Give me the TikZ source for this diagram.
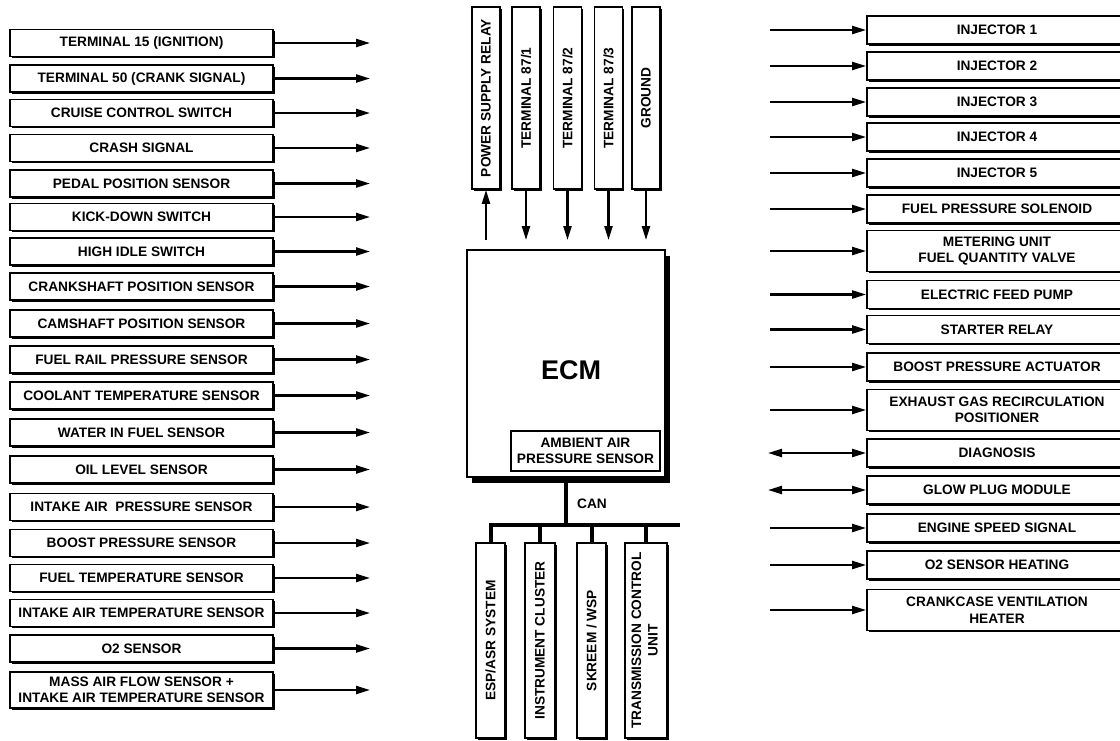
\documentclass[tikz,border=0pt]{standalone}
\usepackage{fontspec}
\setmainfont{Liberation Sans}
\usepackage{graphicx}
\usetikzlibrary{arrows.meta,shadows}
\tikzset{
  lbox/.style={draw, line width=1.8pt, fill=white, inner sep=0pt, align=center,
    font=\bfseries\fontsize{13.7}{16.5}\selectfont,
    general shadow={fill=black, shadow xshift=1.8pt, shadow yshift=-1.8pt}},
  sbox/.style={lbox, minimum width=263pt, minimum height=27pt},
  dbox/.style={lbox, minimum width=263pt, minimum height=36pt},
  rsbox/.style={lbox, minimum width=260pt, minimum height=28pt},
  rdbox/.style={lbox, minimum width=260pt, minimum height=41pt},
  vbox/.style={lbox, minimum width=28pt, minimum height=182pt},
  bbox/.style={lbox, minimum height=195pt},
  sig/.style={line width=2.2pt, -{Triangle[length=14pt,width=8pt]}},
  bisig/.style={line width=2.2pt, {Triangle[length=14pt,width=8pt]}-{Triangle[length=14pt,width=8pt]}},
  bus/.style={line width=4pt},
  lbl/.style={font=\bfseries\fontsize{13.7}{16.5}\selectfont, inner sep=0pt},
}
\begin{document}
\begin{tikzpicture}[x=1pt,y=-1pt]
\clip (0,0) rectangle (1120,740);
\fill[white] (0,0) rectangle (1120,740);

% ---------- left column ----------
\node[sbox] (L1)  at (141.5,43)    {TERMINAL 15 (IGNITION)};
\node[sbox] (L2)  at (141.5,78.5)  {TERMINAL 50 (CRANK SIGNAL)};
\node[sbox] (L3)  at (141.5,113)   {CRUISE CONTROL SWITCH};
\node[sbox] (L4)  at (141.5,148)   {CRASH SIGNAL};
\node[sbox] (L5)  at (141.5,183.5) {PEDAL POSITION SENSOR};
\node[sbox] (L6)  at (141.5,217)   {KICK-DOWN SWITCH};
\node[sbox] (L7)  at (141.5,251.5) {HIGH IDLE SWITCH};
\node[sbox] (L8)  at (141.5,286.5) {CRANKSHAFT POSITION SENSOR};
\node[sbox] (L9)  at (141.5,323.5) {CAMSHAFT POSITION SENSOR};
\node[sbox] (L10) at (141.5,359.5) {FUEL RAIL PRESSURE SENSOR};
\node[sbox] (L11) at (141.5,395.5) {COOLANT TEMPERATURE SENSOR};
\node[sbox] (L12) at (141.5,432.5) {WATER IN FUEL SENSOR};
\node[sbox] (L13) at (141.5,469.5) {OIL LEVEL SENSOR};
\node[sbox] (L14) at (141.5,507)   {INTAKE AIR\ \ PRESSURE SENSOR};
\node[sbox] (L15) at (141.5,543)   {BOOST PRESSURE SENSOR};
\node[sbox] (L16) at (141.5,578)   {FUEL TEMPERATURE SENSOR};
\node[sbox] (L17) at (141.5,613)   {INTAKE AIR TEMPERATURE SENSOR};
\node[sbox] (L18) at (141.5,648.5) {O2 SENSOR};
\node[dbox] (L19) at (141.5,690)   {MASS AIR FLOW SENSOR +\\INTAKE AIR TEMPERATURE SENSOR};

\foreach \i/\y in {1/43,2/78.5,3/113,4/148,5/183.5,6/217,7/251.5,8/286.5,9/323.5,10/359.5,
                   11/395.5,12/432.5,13/469.5,14/507,15/543,16/578,17/613,18/648.5,19/690}{
  \coordinate (LA\i) at (370,\y);
  \draw[sig] (L\i.east) -- (LA\i);
}

% ---------- top column ----------
\node[vbox] (P1) at (486,98)   {\rotatebox{90}{POWER SUPPLY RELAY}};
\node[vbox] (T1) at (526,98)   {\rotatebox{90}{TERMINAL 87/1}};
\node[vbox] (T2) at (567.5,98) {\rotatebox{90}{TERMINAL 87/2}};
\node[vbox] (T3) at (608.5,98) {\rotatebox{90}{TERMINAL 87/3}};
\node[vbox] (T4) at (646,98)   {\rotatebox{90}{GROUND}};

\coordinate (PA) at (486,240);
\draw[sig] (PA) -- (P1.south);
\foreach \n/\x in {T1/526,T2/567.5,T3/608.5,T4/646}{
  \coordinate (\n a) at (\x,240);
  \draw[sig] (\n.south) -- (\n a);
}

% ---------- ECM ----------
\node[draw, line width=1.8pt, fill=white, inner sep=0pt, minimum width=198pt, minimum height=227pt,
      general shadow={fill=black, shadow xshift=5pt, shadow yshift=-5.5pt}] (ECM) at (566,363.5) {};
\node[font=\bfseries\fontsize{27}{30}\selectfont, inner sep=0pt] (ECMt) at (571,370) {ECM};
\node[draw, line width=1.1pt, fill=white, inner sep=0pt, minimum width=149pt, minimum height=40pt,
      align=center, font=\bfseries\fontsize{13.7}{15.5}\selectfont] (AMB) at (585.5,451)
      {AMBIENT AIR\\PRESSURE SENSOR};

% ---------- CAN bus ----------
\node[lbl, anchor=west] (CAN) at (577,504) {CAN};
\node[bbox, minimum width=29pt] (B1) at (490.5,640.5) {\rotatebox{90}{ESP/ASR SYSTEM}};
\node[bbox, minimum width=30pt] (B2) at (540,640.5)   {\rotatebox{90}{INSTRUMENT CLUSTER}};
\node[bbox, minimum width=29pt] (B3) at (591.5,640.5) {\rotatebox{90}{SKREEM / WSP}};
\node[bbox, minimum width=42pt] (B4) at (646,640.5)
      {\rotatebox{90}{\begin{tabular}{@{}c@{}}TRANSMISSION CONTROL\\UNIT\end{tabular}}};

\coordinate (busR) at (680,525);
\draw[bus] (B1.north) |- (busR);
\draw[bus] (ECM.south) -- (ECM.south |- busR);
\draw[bus] (B2.north) -- (B2.north |- busR);
\draw[bus] (B3.north) -- (B3.north |- busR);
\draw[bus] (B4.north) -- (B4.north |- busR);

% ---------- right column ----------
\node[rsbox] (R1)  at (997,30)    {INJECTOR 1};
\node[rsbox] (R2)  at (997,66)    {INJECTOR 2};
\node[rsbox] (R3)  at (997,102)   {INJECTOR 3};
\node[rsbox] (R4)  at (997,137)   {INJECTOR 4};
\node[rsbox] (R5)  at (997,173)   {INJECTOR 5};
\node[rsbox] (R6)  at (997,209)   {FUEL PRESSURE SOLENOID};
\node[rdbox] (R7)  at (997,251)   {METERING UNIT\\FUEL QUANTITY VALVE};
\node[rsbox] (R8)  at (997,294.5) {ELECTRIC FEED PUMP};
\node[rsbox] (R9)  at (997,329.5) {STARTER RELAY};
\node[rsbox] (R10) at (997,367)   {BOOST PRESSURE ACTUATOR};
\node[rdbox] (R11) at (997,410)   {EXHAUST GAS RECIRCULATION\\POSITIONER};
\node[rsbox] (R12) at (997,453)   {DIAGNOSIS};
\node[rsbox] (R13) at (997,490)   {GLOW PLUG MODULE};
\node[rsbox] (R14) at (997,528)   {ENGINE SPEED SIGNAL};
\node[rsbox] (R15) at (997,565)   {O2 SENSOR HEATING};
\node[rdbox] (R16) at (997,610)   {CRANKCASE VENTILATION\\HEATER};

\foreach \i/\y in {1/30,2/66,3/102,4/137,5/173,6/209,7/251,8/294.5,9/329.5,10/367,11/410,
                   14/528,15/565,16/610}{
  \coordinate (RA\i) at (770,\y);
  \draw[sig] (RA\i) -- (R\i.west);
}
\foreach \i/\y in {12/453,13/490}{
  \coordinate (RA\i) at (768,\y);
  \draw[bisig] (RA\i) -- (R\i.west);
}
\end{tikzpicture}
\end{document}
